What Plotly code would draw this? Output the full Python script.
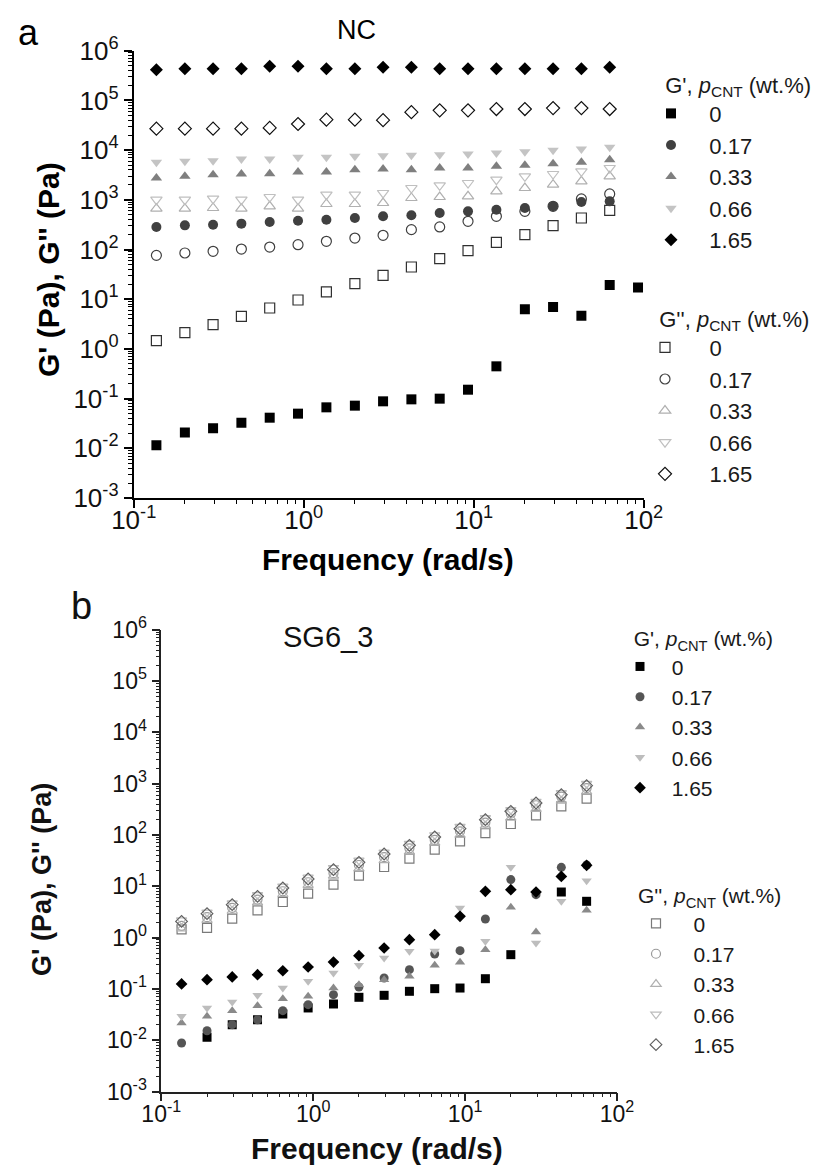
import plotly.graph_objects as go

W, H = 823, 1166
FONT = "Liberation Sans, Arial, sans-serif"

# ---------------- data ----------------
freq = [0.136, 0.2, 0.293, 0.43, 0.631, 0.926, 1.36, 2.0, 2.93, 4.3,
        6.31, 9.26, 13.6, 20.0, 29.3, 43.0, 63.1, 92.6]

# panel a (NC)
a_Gp_0 = [0.0115, 0.0207, 0.0252, 0.0328, 0.0413, 0.0498, 0.0667, 0.0721, 0.0881, 0.0966,
          0.0997, 0.151, 0.446, 6.25, 6.97, 4.66, 19.3, 17.1]
a_Gp_017 = [284, 306, 316, 331, 357, 380, 398, 430, 465, 487, 542, 586, 633, 684, 739, 903, 931, None]
a_Gp_033 = [2750, 2970, 3200, 3300, 3360, 3620, 3620, 4040, 4170, 4040, 4360, 4360, 4710, 4940,
            5330, 5680, 6430, None]
a_Gp_066 = [5680, 5940, 6130, 6620, 6620, 7150, 7150, 7500, 7730, 7850, 8100, 8350, 8750, 9300,
            9900, 10500, 11400, None]
a_Gp_165 = [415000, 435000, 435000, 435000, 484000, 484000, 435000, 435000, 463000, 463000,
            435000, 435000, 435000, 435000, 435000, 435000, 463000, None]
a_Gpp_0 = [1.47, 2.12, 3.07, 4.52, 6.65, 9.64, 14.0, 20.5, 30.2, 44.5, 65.4, 94.8, 139, 199,
           302, 430, 614, None]
a_Gpp_017 = [76.3, 85.1, 91.9, 102, 112, 125, 146, 170, 193, 251, 284, 369, 465, 586, 739,
             1040, 1310, None]
a_Gpp_033 = [663, 663, 684, 663, 739, 663, 823, 823, 862, 1087, 1138, 1174, 1480, 1727, 2016,
             2353, 2965, None]
a_Gpp_066 = [1007, 1007, 1054, 1007, 1138, 1007, 1268, 1268, 1371, 1727, 1954, 2178, 2541, 2965,
             3304, 3741, 4365, None]
a_Gpp_165 = [27000, 27000, 27000, 27000, 28000, 33500, 41000, 41000, 40000, 58000, 63000, 63000,
             67000, 67000, 70000, 70000, 67000, None]

# panel b (SG6_3)
b_Gp_0 = [None, 0.0114, 0.0199, 0.025, 0.0325, 0.0425, 0.0508, 0.0686, 0.075, 0.0898, 0.101,
          0.104, 0.158, 0.465, None, 7.74, 5.1, None]
b_Gp_017 = [0.0088, 0.0153, 0.0201, 0.0251, 0.0377, 0.0493, 0.0773, 0.109, 0.163, 0.237, 0.479,
            0.556, 2.31, 13.5, 6.87, 23.4, 26.0, None]
b_Gp_033 = [0.0216, 0.0292, 0.0377, 0.0471, 0.0646, 0.0716, 0.104, 0.121, 0.151, 0.176, 0.288,
            0.330, 0.58, 3.89, 1.29, None, 3.4, None]
b_Gp_066 = [0.0292, 0.0425, 0.0556, 0.075, 0.104, 0.141, 0.204, 0.288, 0.400, 0.539, 0.55,
            3.78, 0.845, 23.4, 0.785, 5.1, 12.9, None]
b_Gp_165 = [0.125, 0.151, 0.171, 0.189, 0.226, 0.267, 0.334, 0.445, 0.627, 0.91, 1.14, 2.6,
            7.98, 8.6, 7.74, 15.6, 25.6, None]
b_Gpp_0 = [1.45, 1.55, 2.34, 3.40, 4.94, 7.18, 10.8, 16.1, 23.8, 34.6, 51.8, 75.3, 109, 164,
           242, 362, 511, None]
b_Gpp_017 = [1.7, 2.5, 3.8, 5.5, 8.0, 12, 18, 26, 37, 55, 80, 118, 175, 260, 380, 560, 820, None]
b_Gpp_033 = [1.5, 2.2, 3.3, 4.8, 7.0, 10.5, 16, 22, 32, 47, 70, 100, 150, 215, 320, 460, 700, None]
b_Gpp_066 = [2.2, 3.1, 4.7, 6.8, 10, 15, 23, 32, 46, 68, 100, 145, 215, 310, 450, 660, 1000, None]
b_Gpp_165 = [2.07, 2.93, 4.39, 6.37, 9.27, 13.9, 21.1, 29.3, 42.6, 62.9, 91.4, 133, 199, 289,
             421, 611, 916, None]

pcnt_labels = ["0", "0.17", "0.33", "0.66", "1.65"]

x_tickvals = [0.1, 1, 10, 100]
x_ticktext = ["10<sup>-1</sup>", "10<sup>0</sup>", "10<sup>1</sup>", "10<sup>2</sup>"]
y_tickvals = [1e-3, 1e-2, 1e-1, 1, 10, 100, 1e3, 1e4, 1e5, 1e6]
y_ticktext = ["10<sup>-3</sup>", "10<sup>-2</sup>", "10<sup>-1</sup>", "10<sup>0</sup>",
              "10<sup>1</sup>", "10<sup>2</sup>", "10<sup>3</sup>", "10<sup>4</sup>",
              "10<sup>5</sup>", "10<sup>6</sup>"]

x_title = "Frequency (rad/s)"
y_title = "G' (Pa), G'' (Pa)"

NB = "\u00a0"

fig = go.Figure()


def add(y, name, symbol, color, size, xa, ya, legend, open_=False, lw=1.2):
    if open_:
        marker = dict(symbol=symbol + "-open", size=size, color=color,
                      line=dict(color=color, width=lw))
    else:
        marker = dict(symbol=symbol, size=size, color=color, line=dict(width=0))
    fig.add_trace(go.Scatter(x=freq, y=y, mode="markers", name=name, marker=marker,
                             xaxis=xa, yaxis=ya, legend=legend, showlegend=True))


# panel a
pa_fill = [(a_Gp_0, "square", "#000000"), (a_Gp_017, "circle", "#404040"),
           (a_Gp_033, "triangle-up", "#7f7f7f"), (a_Gp_066, "triangle-down", "#c4c4c4"),
           (a_Gp_165, "diamond", "#000000")]
pa_open = [(a_Gpp_0, "square", "#303030"), (a_Gpp_017, "circle", "#404040"),
           (a_Gpp_033, "triangle-up", "#b0b0b0"), (a_Gpp_066, "triangle-down", "#c0c0c0"),
           (a_Gpp_165, "diamond", "#101010")]
for (y, s, c), lab in zip(pa_open, pcnt_labels):
    add(y, NB * 4 + lab, s, c, 10, "x", "y", "legend2", open_=True)
for (y, s, c), lab in zip(pa_fill, pcnt_labels):
    add(y, NB * 3 + lab, s, c, 10, "x", "y", "legend")

# panel b
pb_fill = [(b_Gp_0, "square", "#000000"), (b_Gp_017, "circle", "#555555"),
           (b_Gp_033, "triangle-up", "#8a8a8a"), (b_Gp_066, "triangle-down", "#bdbdbd"),
           (b_Gp_165, "diamond", "#000000")]
pb_open = [(b_Gpp_0, "square", "#7a7a7a"), (b_Gpp_017, "circle", "#9a9a9a"),
           (b_Gpp_033, "triangle-up", "#b0b0b0"), (b_Gpp_066, "triangle-down", "#bcbcbc"),
           (b_Gpp_165, "diamond", "#606060")]
for (y, s, c), lab in zip(pb_open, pcnt_labels):
    add(y, NB * 3 + lab, s, c, 9, "x2", "y2", "legend4", open_=True)
for (y, s, c), lab in zip(pb_fill, pcnt_labels):
    add(y, NB * 2 + lab, s, c, 9, "x2", "y2", "legend3")


def xaxis(domain, anchor, lc, lw, fs, stand):
    return dict(type="log", range=[-1, 2], domain=domain, anchor=anchor, automargin=False,
                showline=True, linecolor=lc, linewidth=lw, ticks="outside", ticklen=8,
                tickwidth=lw, tickcolor=lc, showgrid=False, zeroline=False,
                tickmode="array", tickvals=x_tickvals, ticktext=x_ticktext,
                ticklabelstandoff=stand,
                tickfont=dict(size=fs, family=FONT, color="#111"),
                minor=dict(ticks="outside", ticklen=4, tickwidth=1.2, tickcolor=lc,
                           dtick="D1", showgrid=False))


def yaxis(domain, anchor, lc, lw, fs):
    return dict(type="log", range=[-3, 6], domain=domain, anchor=anchor, automargin=False,
                showline=True, linecolor=lc, linewidth=lw, ticks="outside", ticklen=8,
                tickwidth=lw, tickcolor=lc, showgrid=False, zeroline=False,
                tickmode="array", tickvals=y_tickvals, ticktext=y_ticktext,
                tickfont=dict(size=fs, family=FONT, color="#111"),
                minor=dict(ticks="outside", ticklen=4, tickwidth=1.2, tickcolor=lc,
                           dtick="D1", showgrid=False))


def legend(xpx, ytop, title, fs):
    return dict(x=xpx / W, xanchor="left", y=1 - ytop / H, yanchor="top",
                bgcolor="rgba(0,0,0,0)", borderwidth=0, traceorder="normal",
                font=dict(size=fs, family=FONT, color="#1a1a1a"),
                title=dict(text=title, font=dict(size=fs, family=FONT, color="#1a1a1a")))


def label(text, xpx, ypx, size, color="#000", bold=False, angle=0):
    return dict(text=text, x=xpx / W, y=1 - ypx / H, xref="paper", yref="paper",
                xanchor="center", yanchor="middle", showarrow=False, textangle=angle,
                font=dict(size=size, family=FONT, color=color,
                          weight="bold" if bold else "normal"))


t_gp = "G', <i>p</i><sub>CNT</sub> (wt.%)"
t_gpp = "G'', <i>p</i><sub>CNT</sub> (wt.%)"

fig.update_layout(
    width=W, height=H, autosize=False,
    margin=dict(l=0, r=0, t=0, b=0, autoexpand=False),
    paper_bgcolor="white", plot_bgcolor="white",
    font=dict(family=FONT, color="#000"),
    xaxis=xaxis([125.7 / W, 635.7 / W], "y", "#000", 2, 26, -10),
    yaxis=yaxis([(H - 490) / H, (H - 42.7) / H], "x", "#000", 2, 26),
    xaxis2=xaxis([153.3 / W, 609 / W], "y2", "#222", 1.6, 23, -7),
    yaxis2=yaxis([(H - 1083.5) / H, (H - 621.8) / H], "x2", "#222", 1.6, 23),
    legend=legend(643, 56, NB * 2 + t_gp, 22),
    legend2=legend(637, 290, NB * 2 + t_gpp, 22),
    legend3=legend(612, 611, NB * 2 + t_gp, 21),
    legend4=legend(628, 868, t_gpp, 21),
    annotations=[
        label("a", 20, 25, 36),
        label("NC", 348, 22, 27),
        label("b", 73, 598, 38, "#111"),
        label("SG6_3", 320, 629, 29, "#111"),
        label(x_title, 380, 551, 30, bold=True),
        label(y_title, 40, 262, 30, bold=True, angle=-90),
        label(x_title, 369, 1140, 30, "#111", bold=True),
        label(y_title, 34, 872, 27, "#111", bold=True, angle=-90),
    ],
)

fig.write_html("out.html")
